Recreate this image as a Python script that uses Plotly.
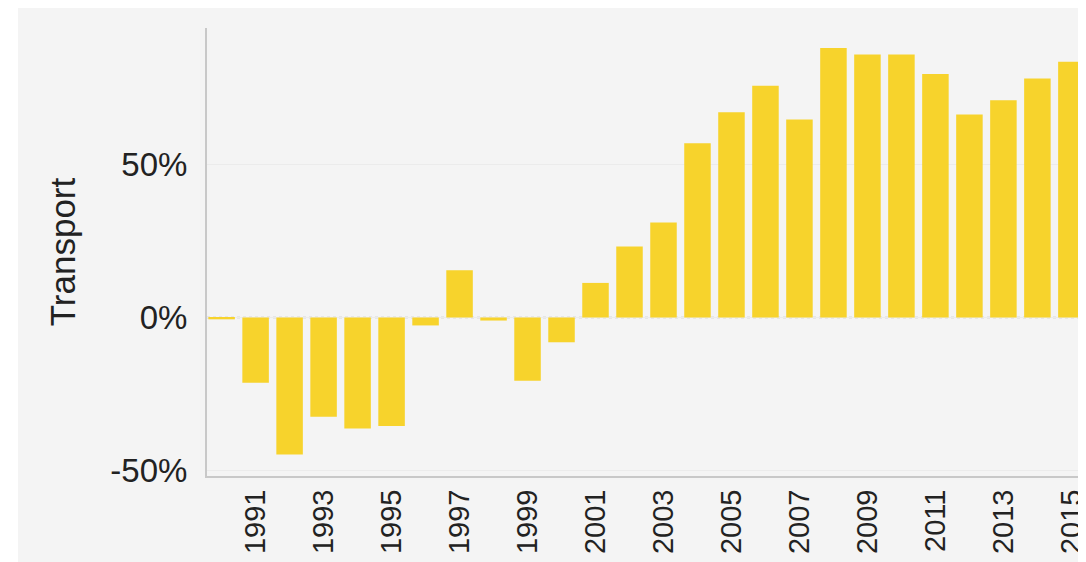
import plotly.graph_objects as go

years = list(range(1990, 2016))
transport_pct = [-0.6, -21.3, -44.8, -32.4, -36.3, -35.5, -2.6, 15.4, -1.0, -20.7,
                 -8.1, 11.3, 23.2, 31.0, 56.9, 67.1, 75.7, 64.7, 88.1, 85.9,
                 85.9, 79.6, 66.3, 71.0, 78.1, 83.6]
x_tick_years = list(range(1991, 2016, 2))
y_tick_vals = [-50, 0, 50]
y_tick_text = ["-50%", "0%", "50%"]

# page body has an 8px margin, so the figure fills the rest of the window
W, H = 1078, 554
L, R, T, B = 199, 0, 20, 86
pw, ph = W - L - R, H - T - B

FONT = "Liberation Sans, Arial, sans-serif"
BG = "#f4f4f4"
TXT = "#222222"

fig = go.Figure()
fig.add_trace(go.Bar(
    x=years, y=transport_pct,
    marker=dict(color="#f7d32c", line=dict(width=0)),
    hovertemplate="%{x}: %{y:.1f}%<extra></extra>",
))


def px_x(p):
    return (p - L) / pw


def px_y(p):
    return (H - B - p) / ph


shapes = [
    # dotted zero line
    dict(type="line", xref="paper", yref="y", x0=0, x1=1, y0=0, y1=0,
         line=dict(color="#bdbdbd", width=1.5, dash="dot"), layer="below"),
    # white outer strip on the left
    dict(type="rect", xref="paper", yref="paper", x0=px_x(-5), x1=px_x(10),
         y0=px_y(H + 5), y1=px_y(-5), fillcolor="white", line=dict(width=0),
         layer="above"),
]

fig.update_layout(
    width=W, height=H,
    margin=dict(l=L, r=R, t=T, b=B, autoexpand=False),
    paper_bgcolor=BG, plot_bgcolor=BG,
    showlegend=False,
    bargap=0.22,
    font=dict(family=FONT, color=TXT, size=32),
    shapes=shapes,
    xaxis=dict(
        range=[1989.57, 2015.43],
        tickmode="array", tickvals=x_tick_years,
        ticktext=[str(y) for y in x_tick_years],
        tickangle=-90,
        tickfont=dict(size=29, family=FONT, color=TXT),
        showgrid=False, zeroline=False,
        showline=True, linecolor="#c8c8c8", linewidth=2,
        ticks="", ticklabelstandoff=0,
        ticklabeloverflow="allow",
        automargin=False,
    ),
    yaxis=dict(
        range=[-51.8, 94.6],
        tickmode="array", tickvals=y_tick_vals, ticktext=y_tick_text,
        tickfont=dict(size=33, family=FONT, color=TXT),
        showgrid=True, gridcolor="#ebebeb", gridwidth=1,
        zeroline=False,
        showline=True, linecolor="#c8c8c8", linewidth=2,
        ticks="", ticklabelstandoff=11,
        automargin=False,
        title=dict(text="Transport", font=dict(size=35, family=FONT, color=TXT),
                   standoff=24),
    ),
)

fig.write_html("out.html")
